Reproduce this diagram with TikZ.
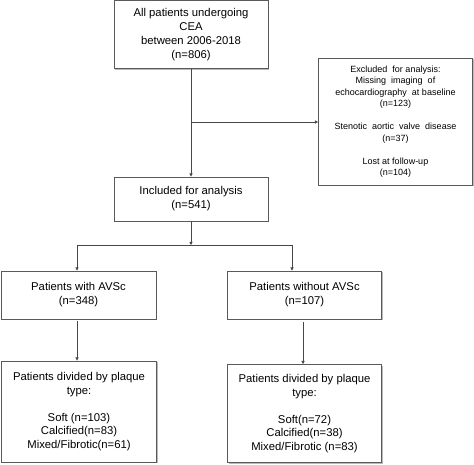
\documentclass[tikz,border=0pt]{standalone}
\usepackage{fontspec}
\setmainfont{Liberation Sans}
\usetikzlibrary{arrows.meta,shadows}
\definecolor{linec}{HTML}{474747}
\definecolor{boxc}{HTML}{5A5A5A}
\tikzset{
  flowbox/.style={draw=boxc, line width=0.8pt, fill=white, align=center,
    inner sep=0pt, font=\fontsize{11.3}{14}\selectfont,
    drop shadow={shadow xshift=1.2pt, shadow yshift=-1.2pt, fill=gray!55, opacity=1}},
  smallbox/.style={flowbox, font=\fontsize{9}{11.5}\selectfont},
  arr/.style={draw=linec, line width=0.7pt, -{Triangle[length=3.2pt,width=3.2pt]}},
  ln/.style={draw=linec, line width=0.7pt}
}
\begin{document}
\begin{tikzpicture}[x=1pt,y=-1pt]
\useasboundingbox (0,0) rectangle (474,464);
\node[flowbox, minimum width=154pt, minimum height=68pt] (all) at (191,34.8)
  {All patients undergoing\\CEA\\between 2006-2018\\(n=806)};
\node[smallbox, minimum width=154pt, minimum height=127pt] (excl) at (395.5,121.5)
  {Excluded\ \ for analysis:\\Missing\ \ imaging\ \ of\\echocardiography\ \ at baseline\\(n=123)\\[11.5pt]Stenotic\ \ aortic\ \ valve\ \ disease\\(n=37)\\[11.5pt]Lost at follow-up\\(n=104)};
\node[flowbox, minimum width=154pt, minimum height=44pt] (incl) at (191,199)
  {Included for analysis\\(n=541)};
\node[flowbox, minimum width=155pt, minimum height=48pt] (with) at (78.5,295)
  {Patients with AVSc\\(n=348)};
\node[flowbox, minimum width=154pt, minimum height=48pt] (without) at (304.5,295)
  {Patients without AVSc\\(n=107)};
\node[flowbox, minimum width=155pt, minimum height=101pt, font=\fontsize{11.3}{13.6}\selectfont] (pwith) at (79,411.5)
  {Patients divided by plaque\\type:\\[13.6pt]Soft (n=103)\\Calcified(n=83)\\Mixed/Fibrotic(n=61)};
\node[flowbox, minimum width=154pt, minimum height=98pt, font=\fontsize{11.3}{13.6}\selectfont] (pwithout) at (304.5,413.5)
  {Patients divided by plaque\\type:\\[13.6pt]Soft(n=72)\\Calcified(n=38)\\Mixed/Fibrotic (n=83)};
% connectors
\coordinate (j1) at (191,122);
\coordinate (j2) at (191,245);
\coordinate (jl) at (77,245);
\coordinate (jr) at (292,245);
\draw[arr] (all.south) -- (incl.north);
\draw[arr] (j1) -- (j1 -| excl.west);
\draw[arr] (incl.south) -- (j2);
\draw[ln] (jl) -- (jr);
\draw[arr] (jl) -- (jl |- with.north);
\draw[arr] (jr) -- (jr |- without.north);
\draw[arr] ([yshift=-1.5pt]with.south -| jl) -- (pwith.north -| jl);
\draw[arr] ([yshift=-3pt]without.south -| 303,0) -- (pwithout.north -| 303,0);
\end{tikzpicture}
\end{document}
